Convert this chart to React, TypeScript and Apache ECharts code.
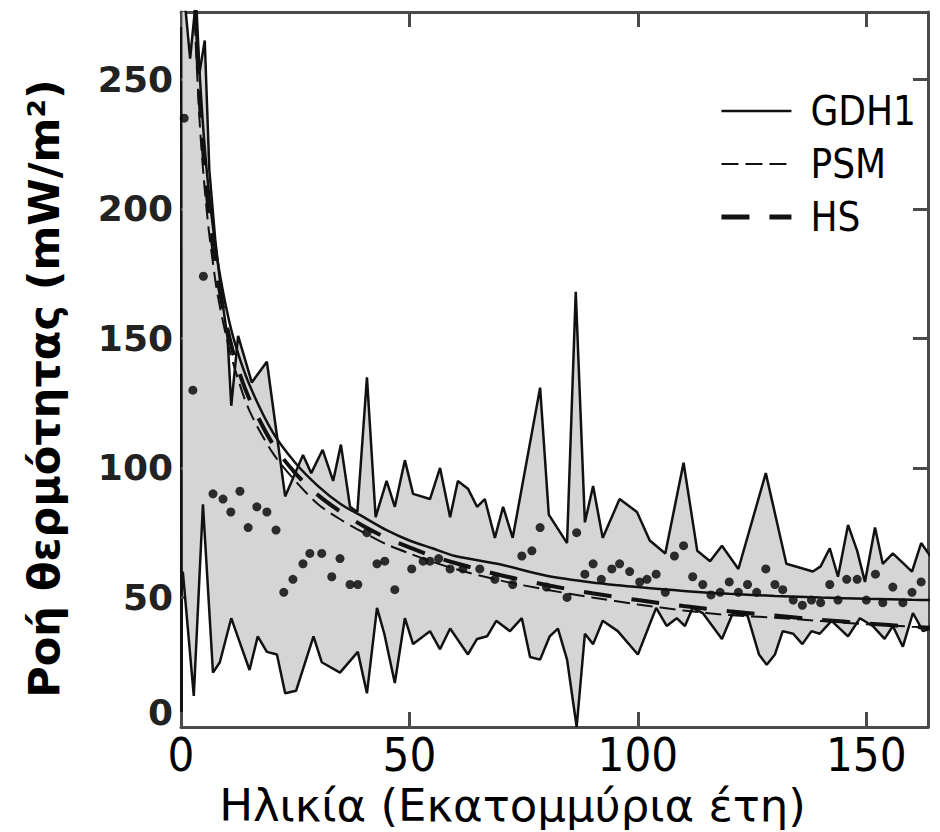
import React, { useEffect, useRef } from 'react';
import * as echarts from 'echarts';

// Upper envelope of the heat-flow band (age in Ma, flow in mW/m²)
const upperAge = [0.3, 2.0, 3.0, 4.0, 5.2, 6.2, 7.5, 9.0, 10.2, 11.0, 12.5, 15.5, 18.8, 22.8, 26.7, 28.5, 31, 33.3, 35, 37, 38.6, 40.7, 42.6, 45, 46.8, 49, 50.8, 54.5, 56.7, 58.9, 60.6, 62.8, 64.8, 66.5, 68.7, 70.5, 72.6, 78.6, 80.5, 84.5, 86.4, 88.4, 90.2, 92.3, 96, 99.8, 102.6, 106, 110, 113, 115.8, 118.4, 122, 128, 132.5, 138.3, 140, 142, 143.8, 146, 148, 149.7, 151.9, 153.6, 155.8, 160, 162, 164];
const upperFlow = [290, 258, 276, 252, 265, 215, 188, 165, 150, 124, 151, 133, 141, 89, 105, 98, 107, 95, 109, 85, 83, 135, 81, 95, 85, 103, 90, 88, 100, 81, 95, 92, 85, 88, 73, 85, 73, 131, 82, 71, 168, 79, 93, 73, 88, 83, 72, 67, 102, 68, 64, 70, 61, 98, 63, 60, 62, 69, 58, 78, 68, 56, 77, 63, 67, 60, 71, 66];

// Lower envelope
const lowerAge = [0.4, 2.8, 4.8, 7, 8.5, 11, 13, 15, 16.8, 18.8, 21, 22.8, 25.2, 29, 30.8, 34.8, 38.7, 40.7, 42.9, 44.5, 46.8, 49, 50.8, 54.5, 56.7, 58.9, 62.8, 64.8, 67, 69, 72, 74.6, 76.4, 78.6, 80.7, 82.5, 84.5, 86.6, 88.4, 90.2, 92.3, 95.6, 100, 104, 106.3, 108.5, 110.3, 112, 114.2, 118.4, 120.8, 124, 126.5, 128.2, 130, 131.7, 134, 136, 138, 139.8, 142.4, 146, 148.6, 151.4, 154, 155.8, 158, 160.2, 162.4, 164];
const lowerFlow = [60, 12, 86, 21, 25, 42, 32, 22, 35, 29, 28, 13, 14, 35, 25, 21, 29, 13, 46, 36, 17, 42, 32, 37, 30, 38, 28, 34, 35, 41, 37, 42, 27, 26, 35, 38, 26, 0, 36, 32, 41, 37, 28, 46, 39, 42, 39, 46, 44, 34, 44, 43, 28, 24, 28, 37, 36, 32, 37, 36, 41, 35, 42, 39, 34, 39, 31, 44, 37, 38];

// Mean values (dots)
const meanAge = [0.7, 2.6, 4.9, 7, 9.2, 10.9, 12.9, 14.7, 16.6, 18.8, 20.8, 22.5, 24.5, 26.7, 28.2, 30.8, 33, 34.8, 37, 38.7, 40.7, 42.9, 44.6, 46.8, 50.5, 53, 54.5, 56.4, 58.9, 61.7, 65.4, 68.7, 72.6, 74.6, 76.8, 78.6, 80, 84.5, 86.6, 88.4, 90.2, 92, 94.3, 96, 98.2, 100.4, 102, 104, 106, 108, 110, 112, 114.2, 116, 118, 120, 122, 124, 126, 128, 130, 131.7, 134, 136, 138, 140, 142, 143.8, 145.7, 148, 150, 152, 153.6, 155.8, 158, 160, 162, 164];
const meanFlow = [235, 130, 174, 90, 88, 83, 91, 77, 85, 83, 76, 52, 57, 63, 67, 67, 58, 65, 55, 55, 75, 63, 64, 53, 61, 64, 64, 65, 61, 61, 61, 57, 55, 66, 68, 77, 54, 50, 75, 59, 63, 57, 61, 63, 60, 56, 57, 59, 52, 66, 70, 58, 55, 51, 52, 56, 52, 55, 52, 61, 55, 53, 49, 47, 49, 48, 55, 49, 57, 57, 49, 59, 48, 54, 48, 52, 56, 53];

// Model curves
const curveAge = [3, 4, 5, 6, 7, 8, 10, 12, 15, 20, 25, 30, 35, 40, 45, 50, 55, 60, 70, 80, 90, 100, 110, 120, 130, 140, 150, 160, 164];
const gdh1Flow = [294, 255, 228, 208, 193, 180, 161, 147, 132, 114, 102, 93, 86, 81, 76, 72, 69, 66, 62.7, 58.4, 55.8, 54, 52.5, 51.4, 50.6, 50, 49.5, 49.1, 49];
const psmFlow = [273, 236, 211.5, 193, 179, 167, 150, 137, 122, 106, 95, 86, 80, 75, 70.5, 67, 63.8, 61, 56.5, 53, 50, 47.3, 45, 43.2, 42.2, 40.9, 39.7, 38.7, 38.4];
const hsFlow = [283, 245, 219, 200, 185, 173, 155, 141, 126.5, 109.5, 98, 89.5, 83, 77.5, 73, 69.3, 66, 63.3, 58.6, 54.8, 51.6, 49, 46.7, 44.7, 43, 41.4, 40, 38.7, 38.3];

const xTicks = [0, 50, 100, 150];
const yTicks = [0, 50, 100, 150, 200, 250];

const zip = (a: number[], b: number[]) => a.map((v, i) => [v, b[i]]);

const NARROW = "'Liberation Sans Narrow', 'Arial Narrow', 'DejaVu Sans Condensed', sans-serif";
const FRAME = '#4a4a4a';

export default function App() {
  const ref = useRef<HTMLDivElement>(null);
  useEffect(() => {
    document.body.style.margin = '0';
    const chart = echarts.init(ref.current!, null, { renderer: 'svg' });
    const upper = zip(upperAge, upperFlow);
    const lower = zip(lowerAge, lowerFlow);
    const axisCommon = {
      type: 'value' as const,
      splitLine: { show: false },
      axisLine: { show: true, onZero: false, lineStyle: { color: FRAME, width: 3 } },
      axisTick: { show: true, inside: true, length: 15, lineStyle: { color: FRAME, width: 3 } },
    };
    chart.setOption({
      animation: false,
      backgroundColor: '#ffffff',
      grid: { left: 181, right: 12, top: 12, bottom: 105, outerBoundsMode: 'none' },
      legend: {
        data: [
          { name: 'GDH1', lineStyle: { width: 2.5, type: 'solid' } },
          { name: 'PSM', lineStyle: { width: 2, type: [17, 7] } },
          { name: 'HS', lineStyle: { width: 5, type: [28, 20] } },
        ],
        orient: 'vertical',
        right: 19,
        top: 84,
        itemWidth: 70,
        itemHeight: 12,
        itemGap: 9,
        itemStyle: { opacity: 0 },
        textStyle: { fontFamily: NARROW, fontSize: 40, color: '#000', padding: [0, 0, 0, 14], lineHeight: 44 },
      },
      xAxis: [
        {
          ...axisCommon,
          min: 0, max: 163.5, interval: 50,
          position: 'bottom',
          axisLabel: { fontFamily: NARROW, fontSize: 47, color: '#000', margin: 4,
            formatter: (v: number) => (xTicks.includes(v) ? String(v) : '') },
          name: 'Ηλικία (Εκατομμύρια έτη)',
          nameLocation: 'middle',
          nameGap: 43,
          nameTextStyle: { fontFamily: "'DejaVu Sans', sans-serif", fontSize: 45, lineHeight: 45, color: '#000', padding: [0, 84, 0, 0] },
        },
        {
          ...axisCommon,
          min: 0, max: 163.5, interval: 50,
          position: 'top',
          axisLabel: { show: false },
        },
      ],
      yAxis: [
        {
          ...axisCommon,
          min: 0, max: 276, interval: 50,
          position: 'left',
          axisLine: { show: true, onZero: false, lineStyle: { color: '#111', width: 3 } },
          axisLabel: { fontFamily: "'DejaVu Sans', sans-serif", fontWeight: 'bold', fontSize: 36, color: '#222', margin: 8,
            formatter: (v: number) => (v === 0 ? '{z|0}' : yTicks.includes(v) ? String(v) : ''),
            rich: { z: { fontFamily: "'DejaVu Sans', sans-serif", fontWeight: 'bold', fontSize: 36, color: '#222', padding: [0, 0, 30, 0] } } },
          name: 'Ροή θερμότητας (mW/m²)',
          nameLocation: 'middle',
          nameGap: 116,
          nameTextStyle: { fontFamily: "'DejaVu Sans', sans-serif", fontWeight: 'bold', fontSize: 43, color: '#000', padding: [0, 38, 0, 0] },
        },
        {
          ...axisCommon,
          min: 0, max: 276, interval: 50,
          position: 'right',
          axisLabel: { show: false },
        },
      ],
      series: [
        {
          name: 'band',
          type: 'custom',
          clip: true,
          silent: true,
          z: 1,
          data: [[0, 0]],
          renderItem: (_params: any, api: any) => {
            const pts = upper.map((p) => api.coord(p)).concat(lower.slice().reverse().map((p) => api.coord(p)));
            return { type: 'polygon', shape: { points: pts }, style: { fill: '#d5d5d5', stroke: 'none' } };
          },
        },
        {
          name: 'upper', type: 'line', data: upper, symbol: 'none', z: 3,
          lineStyle: { color: '#111', width: 2.5 },
        },
        {
          name: 'lower', type: 'line', data: lower, symbol: 'none', z: 3,
          lineStyle: { color: '#111', width: 2.5 },
        },
        {
          name: 'mean', type: 'scatter', data: zip(meanAge, meanFlow), symbol: 'circle', symbolSize: 9, z: 4,
          itemStyle: { color: '#000' },
        },
        {
          name: 'GDH1', type: 'line', data: zip(curveAge, gdh1Flow), symbol: 'none', smooth: 0.3, z: 5,
          lineStyle: { color: '#111', width: 2.5 }, itemStyle: { color: '#111' },
        },
        {
          name: 'PSM', type: 'line', data: zip(curveAge, psmFlow), symbol: 'none', smooth: 0.3, z: 5,
          lineStyle: { color: '#111', width: 2, type: [16, 7] }, itemStyle: { color: '#111' },
        },
        {
          name: 'HS', type: 'line', data: zip(curveAge, hsFlow), symbol: 'none', smooth: 0.3, z: 5,
          lineStyle: { color: '#111', width: 4, type: [28, 20] }, itemStyle: { color: '#111' },
        },
      ],
    });
    return () => chart.dispose();
  }, []);
  return <div ref={ref} style={{ position: 'absolute', left: 0, top: 0, width: 940, height: 832 }} />;
}
